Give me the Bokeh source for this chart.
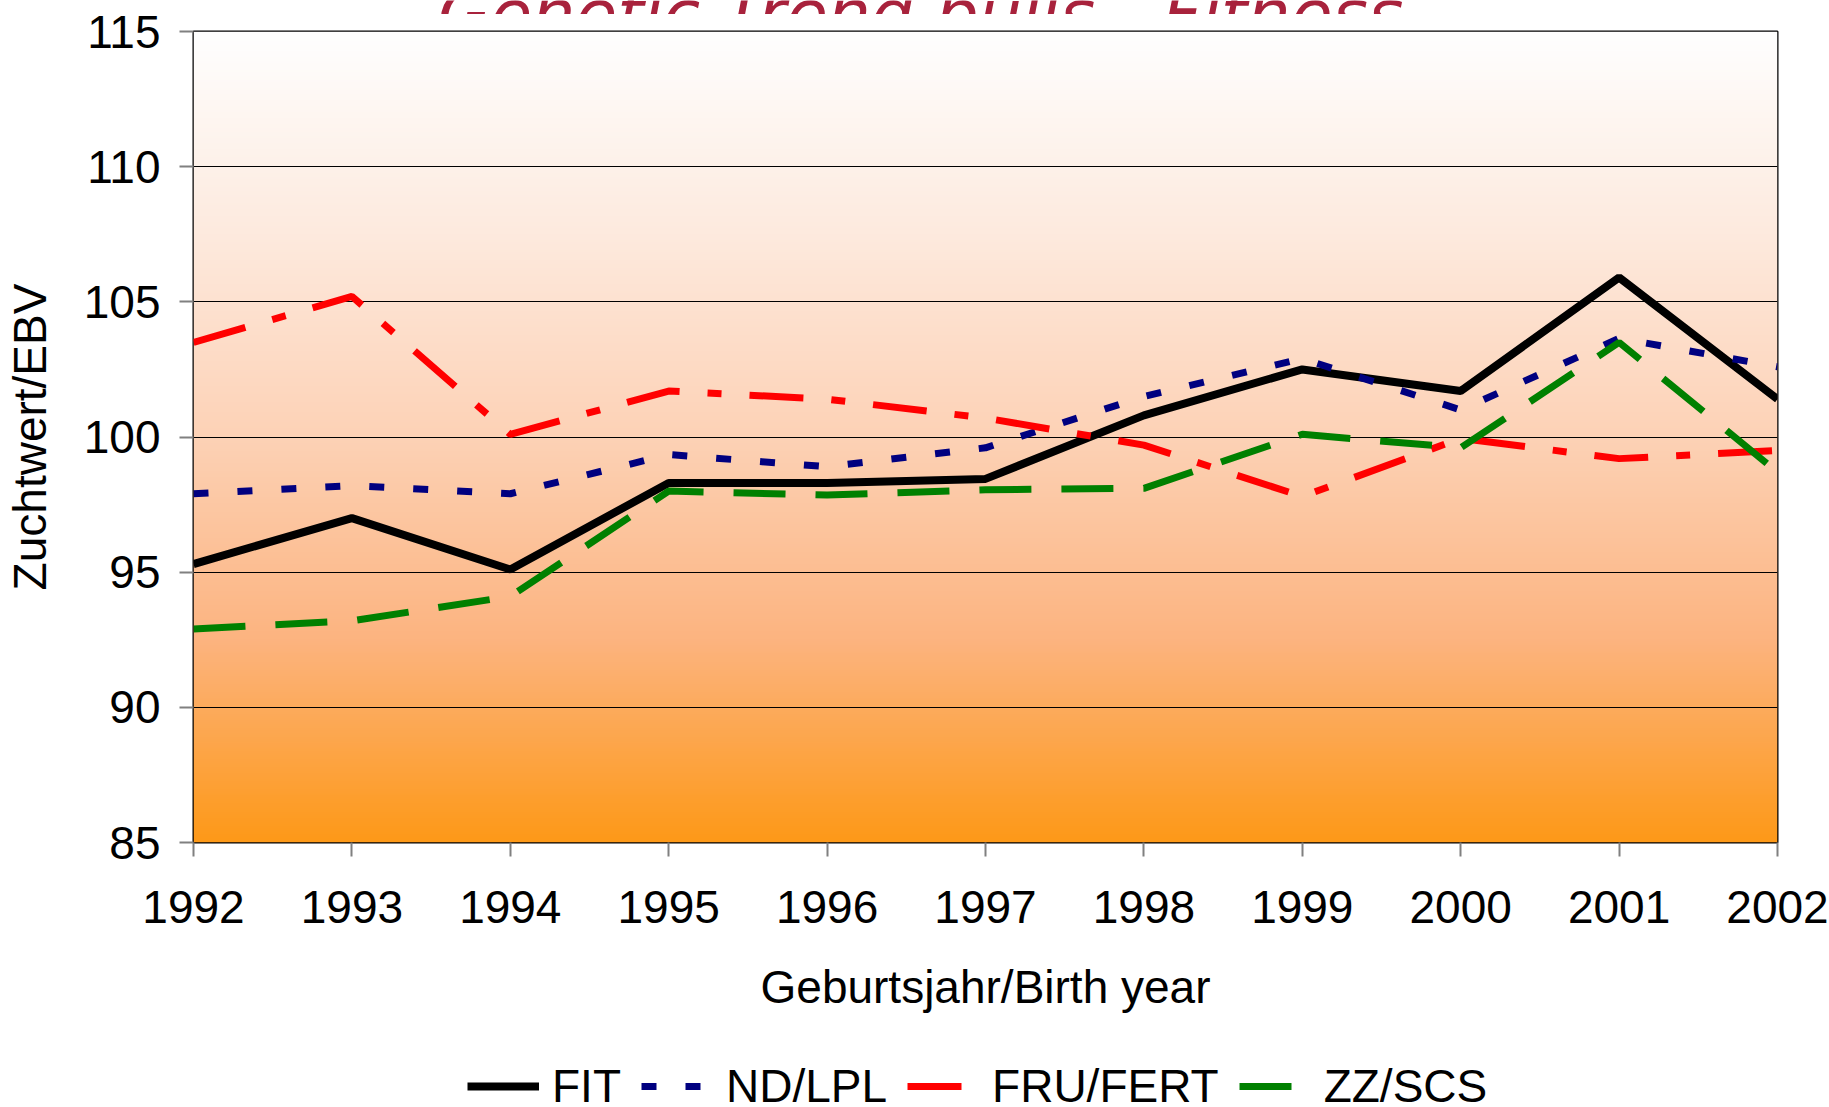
import numpy as np
from bokeh.plotting import figure
from bokeh.layouts import column
from bokeh.core.properties import value
from bokeh.models import Range1d, FixedTicker, Legend, LegendItem
from bokeh.embed import file_html
from bokeh.resources import INLINE

# ---- data ----
YEARS = [1992, 1993, 1994, 1995, 1996, 1997, 1998, 1999, 2000, 2001, 2002]
FIT = [95.3, 97.0, 95.1, 98.3, 98.3, 98.45, 100.8, 102.5, 101.7, 105.9, 101.4]
ND_LPL = [97.9, 98.2, 97.9, 99.35, 98.9, 99.6, 101.5, 102.9, 101.0, 103.65, 102.6]
FRU_FERT = [103.5, 105.2, 100.1, 101.7, 101.4, 100.7, 99.7, 97.8, 99.95, 99.2, 99.5]
ZZ_SCS = [92.9, 93.2, 94.1, 98.0, 97.85, 98.05, 98.1, 100.1, 99.6, 103.5, 98.7]
SERIES_NAMES = ["FIT", "ND/LPL", "FRU/FERT", "ZZ/SCS"]
Y_TICKS = [85, 90, 95, 100, 105, 110, 115]
Y_MIN, Y_MAX = 85, 115
TITLE = "Genetic Trend bulls - Fitness"
X_TITLE = "Geburtsjahr/Birth year"
Y_TITLE = "Zuchtwert/EBV"

FONT = "Liberation Sans"
STYLES = [dict(line_color="black", line_width=8),
          dict(line_color="#000080", line_width=7, line_dash="15 29"),
          dict(line_color="#FF0000", line_width=7, line_dash="54 28 14 28"),
          dict(line_color="#008000", line_width=7, line_dash="52 30")]
SERIES = [FIT, ND_LPL, FRU_FERT, ZZ_SCS]

LEFT, RIGHT, FW = 193, 52, 1584

# ---- title strip (title cut off at the top, as in the reference) ----
p0 = figure(frame_width=FW, frame_height=14, x_range=Range1d(0, 1), y_range=Range1d(0, 1),
            output_backend="svg", toolbar_location=None,
            x_axis_location=None, y_axis_location=None,
            min_border_left=LEFT, min_border_right=RIGHT, min_border_top=0, min_border_bottom=0)
p0.outline_line_color = None
p0.grid.visible = False
p0.text(x=[0.5], y=[0], text=[TITLE], x_offset=-65, text_align="center",
        text_baseline="alphabetic", text_font=value("DejaVu Sans"),
        text_font_style="italic", text_font_size="68px", text_color="#A8223C")

# ---- main chart ----
p = figure(frame_width=FW, frame_height=811,
           x_range=Range1d(YEARS[0], YEARS[-1]), y_range=Range1d(Y_MIN, Y_MAX),
           output_backend="svg", toolbar_location=None,
           min_border_left=LEFT, min_border_top=17, min_border_right=RIGHT,
           min_border_bottom=200)

# gradient background (white top -> orange bottom)
stops_t = [0.0, 0.25, 0.5, 0.75, 1.0]
stops_c = [(255, 255, 255), (253, 234, 222), (253, 210, 182), (252, 180, 128), (254, 153, 24)]
n = 400
t = np.linspace(1.0, 0.0, n)  # row 0 is the bottom of the image
img = np.zeros((n, 2), dtype=np.uint32)
view = img.view(dtype=np.uint8).reshape((n, 2, 4))
for ch in range(3):
    col = np.interp(t, stops_t, [c[ch] for c in stops_c])
    view[:, :, ch] = col[:, None].astype(np.uint8)
view[:, :, 3] = 255
bg = p.image_rgba(image=[img], x=YEARS[0], y=Y_MIN, dw=YEARS[-1] - YEARS[0], dh=Y_MAX - Y_MIN)
bg.level = "image"

for vals, st in zip(SERIES, STYLES):
    p.line(YEARS, vals, **st)

p.xaxis.ticker = FixedTicker(ticks=YEARS)
p.yaxis.ticker = FixedTicker(ticks=Y_TICKS)
for ax in (p.xaxis[0], p.yaxis[0]):
    ax.major_tick_out = 14
    ax.major_tick_in = 0
    ax.minor_tick_line_color = None
    ax.major_tick_line_color = "#808080"
    ax.major_tick_line_width = 2
    ax.axis_line_color = None
    ax.major_label_text_font = FONT
    ax.major_label_text_font_size = "46px"
    ax.major_label_text_color = "black"
    ax.axis_label_text_font = FONT
    ax.axis_label_text_font_size = "46px"
    ax.axis_label_text_font_style = "normal"
    ax.axis_label_text_color = "black"
p.xaxis.axis_label = X_TITLE
p.yaxis.axis_label = Y_TITLE
p.xaxis.major_label_standoff = 34
p.xaxis.axis_label_standoff = 35
p.yaxis.major_label_standoff = 19
p.yaxis.axis_label_standoff = 25

p.xgrid.grid_line_color = None
p.ygrid.ticker = FixedTicker(ticks=Y_TICKS)
p.ygrid.grid_line_color = "black"
p.ygrid.grid_line_width = 1

p.outline_line_color = "black"
p.outline_line_width = 2
p.background_fill_color = "white"
p.border_fill_color = "white"

# ---- legend strip (series redrawn outside its visible range so that the
# legend glyphs are drawn) ----
p2 = figure(frame_width=FW, frame_height=65, x_range=Range1d(0, 1), y_range=Range1d(0, 1),
            output_backend="svg", toolbar_location=None,
            x_axis_location=None, y_axis_location=None,
            min_border_left=LEFT, min_border_right=RIGHT, min_border_top=0, min_border_bottom=0)
p2.outline_line_color = None
p2.grid.visible = False
items = []
for name, vals, st in zip(SERIES_NAMES, SERIES, STYLES):
    r = p2.line(YEARS, vals, **st)
    items.append(LegendItem(label=name, renderers=[r]))
legend = Legend(items=items, orientation="horizontal", location=(274, -6),
                glyph_width=72, glyph_height=20, label_standoff=13, spacing=20,
                label_height=46, padding=0, margin=0, border_line_color=None,
                background_fill_alpha=0, label_text_color="black",
                label_text_font=FONT, label_text_font_size="46px")
p2.add_layout(legend, "center")

layout = column(p0, p, p2, spacing=0)
open("out.html", "w").write(file_html(layout, INLINE))
